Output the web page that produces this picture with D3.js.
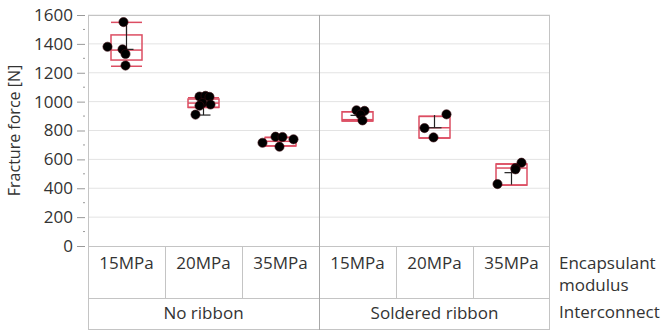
<!DOCTYPE html>
<html>
<head>
<meta charset="utf-8">
<script src="https://cdn.jsdelivr.net/npm/d3@7"></script>
<style>
  body { margin: 0; background: #fff; }
  text { font-family: "Open Sans", "Noto Sans", sans-serif; fill: #333; }
</style>
</head>
<body>
<div id="graph"></div>
<script>
// categories
const interconnects = ['No ribbon', 'Soldered ribbon'];
const moduli = ['15MPa', '20MPa', '35MPa'];
const yTicks = [0, 200, 400, 600, 800, 1000, 1200, 1400, 1600];

// fracture force per group (N)
const nr15 = [1551, 1380, 1362, 1330, 1250];
const nr20 = [1035, 1040, 1033, 990, 980, 972, 910];
const nr35 = [715, 757, 755, 688, 739];
const sr15 = [940, 936, 910, 870];
const sr20 = [912, 817, 752];
const sr35 = [577, 540, 531, 429];
const groupValues = [nr15, nr20, nr35, sr15, sr20, sr35];

// box plot stats per group
const boxQ1 = [1288, 960, 693, 866, 748, 422];
const boxMed = [1357, 990, 725, 875, 819, 540];
const boxQ3 = [1462, 1018, 752, 930, 898, 568];
const whiskLo = [1245, 960, 693, 866, 748, 422];
const whiskHi = [1549, 1027, 752, 930, 898, 568];

// black mean marks
const meanTick = [1362, 907, null, 905, 819, 508];
const meanLo = [1362, 907, null, 895, 819, 425];
const meanHi = [1549, 960, null, 935, 907, 540];

// jitter of the points, px from the box centre
const jitter = [
  [-3, -19, -4, -1, -1],
  [-4, 2, 6, -1, 7, -4, -8],
  [-18, -5, 2, -1, 13],
  [-1, 7, 3, 5],
  [12, -10, -1],
  [10, 4, 4, -14]
];

const width = 665, height = 332;
const plotLeft = 88, plotRight = 550, plotTop = 15, plotBottom = 246;
const row1 = 298, row2 = 330;
const red = '#dc4d62';
const grid = '#e3e3e3';
const frame = '#c4c4c4';

const svg = d3.select('#graph').append('svg')
  .attr('width', width)
  .attr('height', height);

const y = d3.scaleLinear().domain([0, 1600]).range([plotBottom, plotTop]);

const outer = d3.scaleBand().domain(interconnects).range([plotLeft, plotRight]);
const cells = interconnects.flatMap(ic => moduli.map(m => ic + '|' + m));
const x = d3.scaleBand().domain(cells).range([plotLeft, plotRight]);

// gridlines
svg.append('g')
  .selectAll('line')
  .data(yTicks.slice(1))
  .join('line')
  .attr('x1', plotLeft).attr('x2', plotRight)
  .attr('y1', d => y(d)).attr('y2', d => y(d))
  .attr('stroke', grid).attr('stroke-width', 1);

// y axis
const yAxis = svg.append('g')
  .attr('transform', `translate(${plotLeft - 3},0)`)
  .call(d3.axisLeft(y).tickValues(yTicks).tickFormat(d3.format('d'))
    .tickSize(8).tickPadding(4).tickSizeOuter(0));
yAxis.select('.domain').remove();
yAxis.selectAll('.tick line').attr('stroke', '#999');
yAxis.selectAll('.tick text')
  .style('font-size', '17px')
  .style('font-family', '"Open Sans", sans-serif')
  .attr('fill', '#333');

// minor ticks
svg.append('g')
  .selectAll('line')
  .data(d3.range(100, 1600, 200))
  .join('line')
  .attr('x1', plotLeft - 5).attr('x2', plotLeft - 3)
  .attr('y1', d => y(d)).attr('y2', d => y(d))
  .attr('stroke', '#999');

// frame of plot and table
const f = svg.append('g').attr('fill', 'none').attr('stroke', frame).attr('stroke-width', 1);
f.append('rect')
  .attr('x', plotLeft + 0.5).attr('y', plotTop + 0.5)
  .attr('width', plotRight - plotLeft - 1).attr('height', row2 - plotTop - 1);
f.append('line')
  .attr('x1', plotLeft).attr('x2', plotRight)
  .attr('y1', plotBottom + 0.5).attr('y2', plotBottom + 0.5);
f.append('line')
  .attr('x1', plotLeft).attr('x2', plotRight)
  .attr('y1', row1 + 0.5).attr('y2', row1 + 0.5);
f.selectAll('.cellsep')
  .data(cells.slice(1))
  .join('line')
  .attr('class', 'cellsep')
  .attr('x1', d => Math.round(x(d)) + 0.5).attr('x2', d => Math.round(x(d)) + 0.5)
  .attr('y1', plotBottom).attr('y2', row1);
// panel divider
svg.append('line')
  .attr('x1', Math.round(outer(interconnects[1])) + 0.5)
  .attr('x2', Math.round(outer(interconnects[1])) + 0.5)
  .attr('y1', plotTop).attr('y2', row2)
  .attr('stroke', '#a8a8a8');

// box plots
const boxW = 31;
const groups = svg.append('g')
  .selectAll('g')
  .data(cells)
  .join('g')
  .attr('transform', d => `translate(${x(d) + x.bandwidth() / 2},0)`);

groups.each(function (d, i) {
  const g = d3.select(this);
  // whiskers
  g.append('line')
    .attr('x1', 0).attr('x2', 0)
    .attr('y1', y(boxQ3[i])).attr('y2', y(whiskHi[i]))
    .attr('stroke', red).attr('stroke-width', 1.2);
  g.append('line')
    .attr('x1', 0).attr('x2', 0)
    .attr('y1', y(boxQ1[i])).attr('y2', y(whiskLo[i]))
    .attr('stroke', red).attr('stroke-width', 1.2);
  [whiskLo[i], whiskHi[i]].forEach(v => {
    g.append('line')
      .attr('x1', -boxW / 2).attr('x2', boxW / 2)
      .attr('y1', y(v)).attr('y2', y(v))
      .attr('stroke', red).attr('stroke-width', 1.5);
  });
  g.append('rect')
    .attr('x', -boxW / 2).attr('width', boxW)
    .attr('y', y(boxQ3[i])).attr('height', y(boxQ1[i]) - y(boxQ3[i]))
    .attr('fill', 'none').attr('stroke', red).attr('stroke-width', 1.5);
  g.append('line')
    .attr('x1', -boxW / 2).attr('x2', boxW / 2)
    .attr('y1', y(boxMed[i])).attr('y2', y(boxMed[i]))
    .attr('stroke', red).attr('stroke-width', 1.5);

  // black mean marks
  if (meanTick[i] !== null) {
    g.append('line')
      .attr('x1', 0).attr('x2', 0)
      .attr('y1', y(meanLo[i])).attr('y2', y(meanHi[i]))
      .attr('stroke', '#222').attr('stroke-width', 1.2);
    g.append('line')
      .attr('x1', -7).attr('x2', 7)
      .attr('y1', y(meanTick[i])).attr('y2', y(meanTick[i]))
      .attr('stroke', '#222').attr('stroke-width', 1.2);
  }

  // points
  g.selectAll('circle')
    .data(groupValues[i])
    .join('circle')
    .attr('cx', (v, j) => jitter[i][j])
    .attr('cy', v => y(v))
    .attr('r', 4.6)
    .attr('fill', '#000')
    .attr('stroke', '#3a0a10')
    .attr('stroke-width', 0.6);
});

// category labels
svg.append('g')
  .selectAll('text')
  .data(cells)
  .join('text')
  .attr('x', d => x(d) + x.bandwidth() / 2)
  .attr('y', 269)
  .attr('text-anchor', 'middle')
  .style('font-size', '17px')
  .text(d => d.split('|')[1]);

svg.append('g')
  .selectAll('text')
  .data(interconnects)
  .join('text')
  .attr('x', d => outer(d) + outer.bandwidth() / 2)
  .attr('y', 319)
  .attr('text-anchor', 'middle')
  .style('font-size', '17px')
  .text(d => d);

// row titles
const rowTitle = svg.append('g').style('font-size', '17px');
rowTitle.append('text').attr('x', 559).attr('y', 269).text('Encapsulant');
rowTitle.append('text').attr('x', 559).attr('y', 291).text('modulus');
rowTitle.append('text').attr('x', 559).attr('y', 318).text('Interconnect');

// y axis title
svg.append('text')
  .attr('transform', `translate(20,${(plotTop + plotBottom) / 2}) rotate(-90)`)
  .attr('text-anchor', 'middle')
  .style('font-size', '16px')
  .text('Fracture force [N]');
</script>
</body>
</html>
